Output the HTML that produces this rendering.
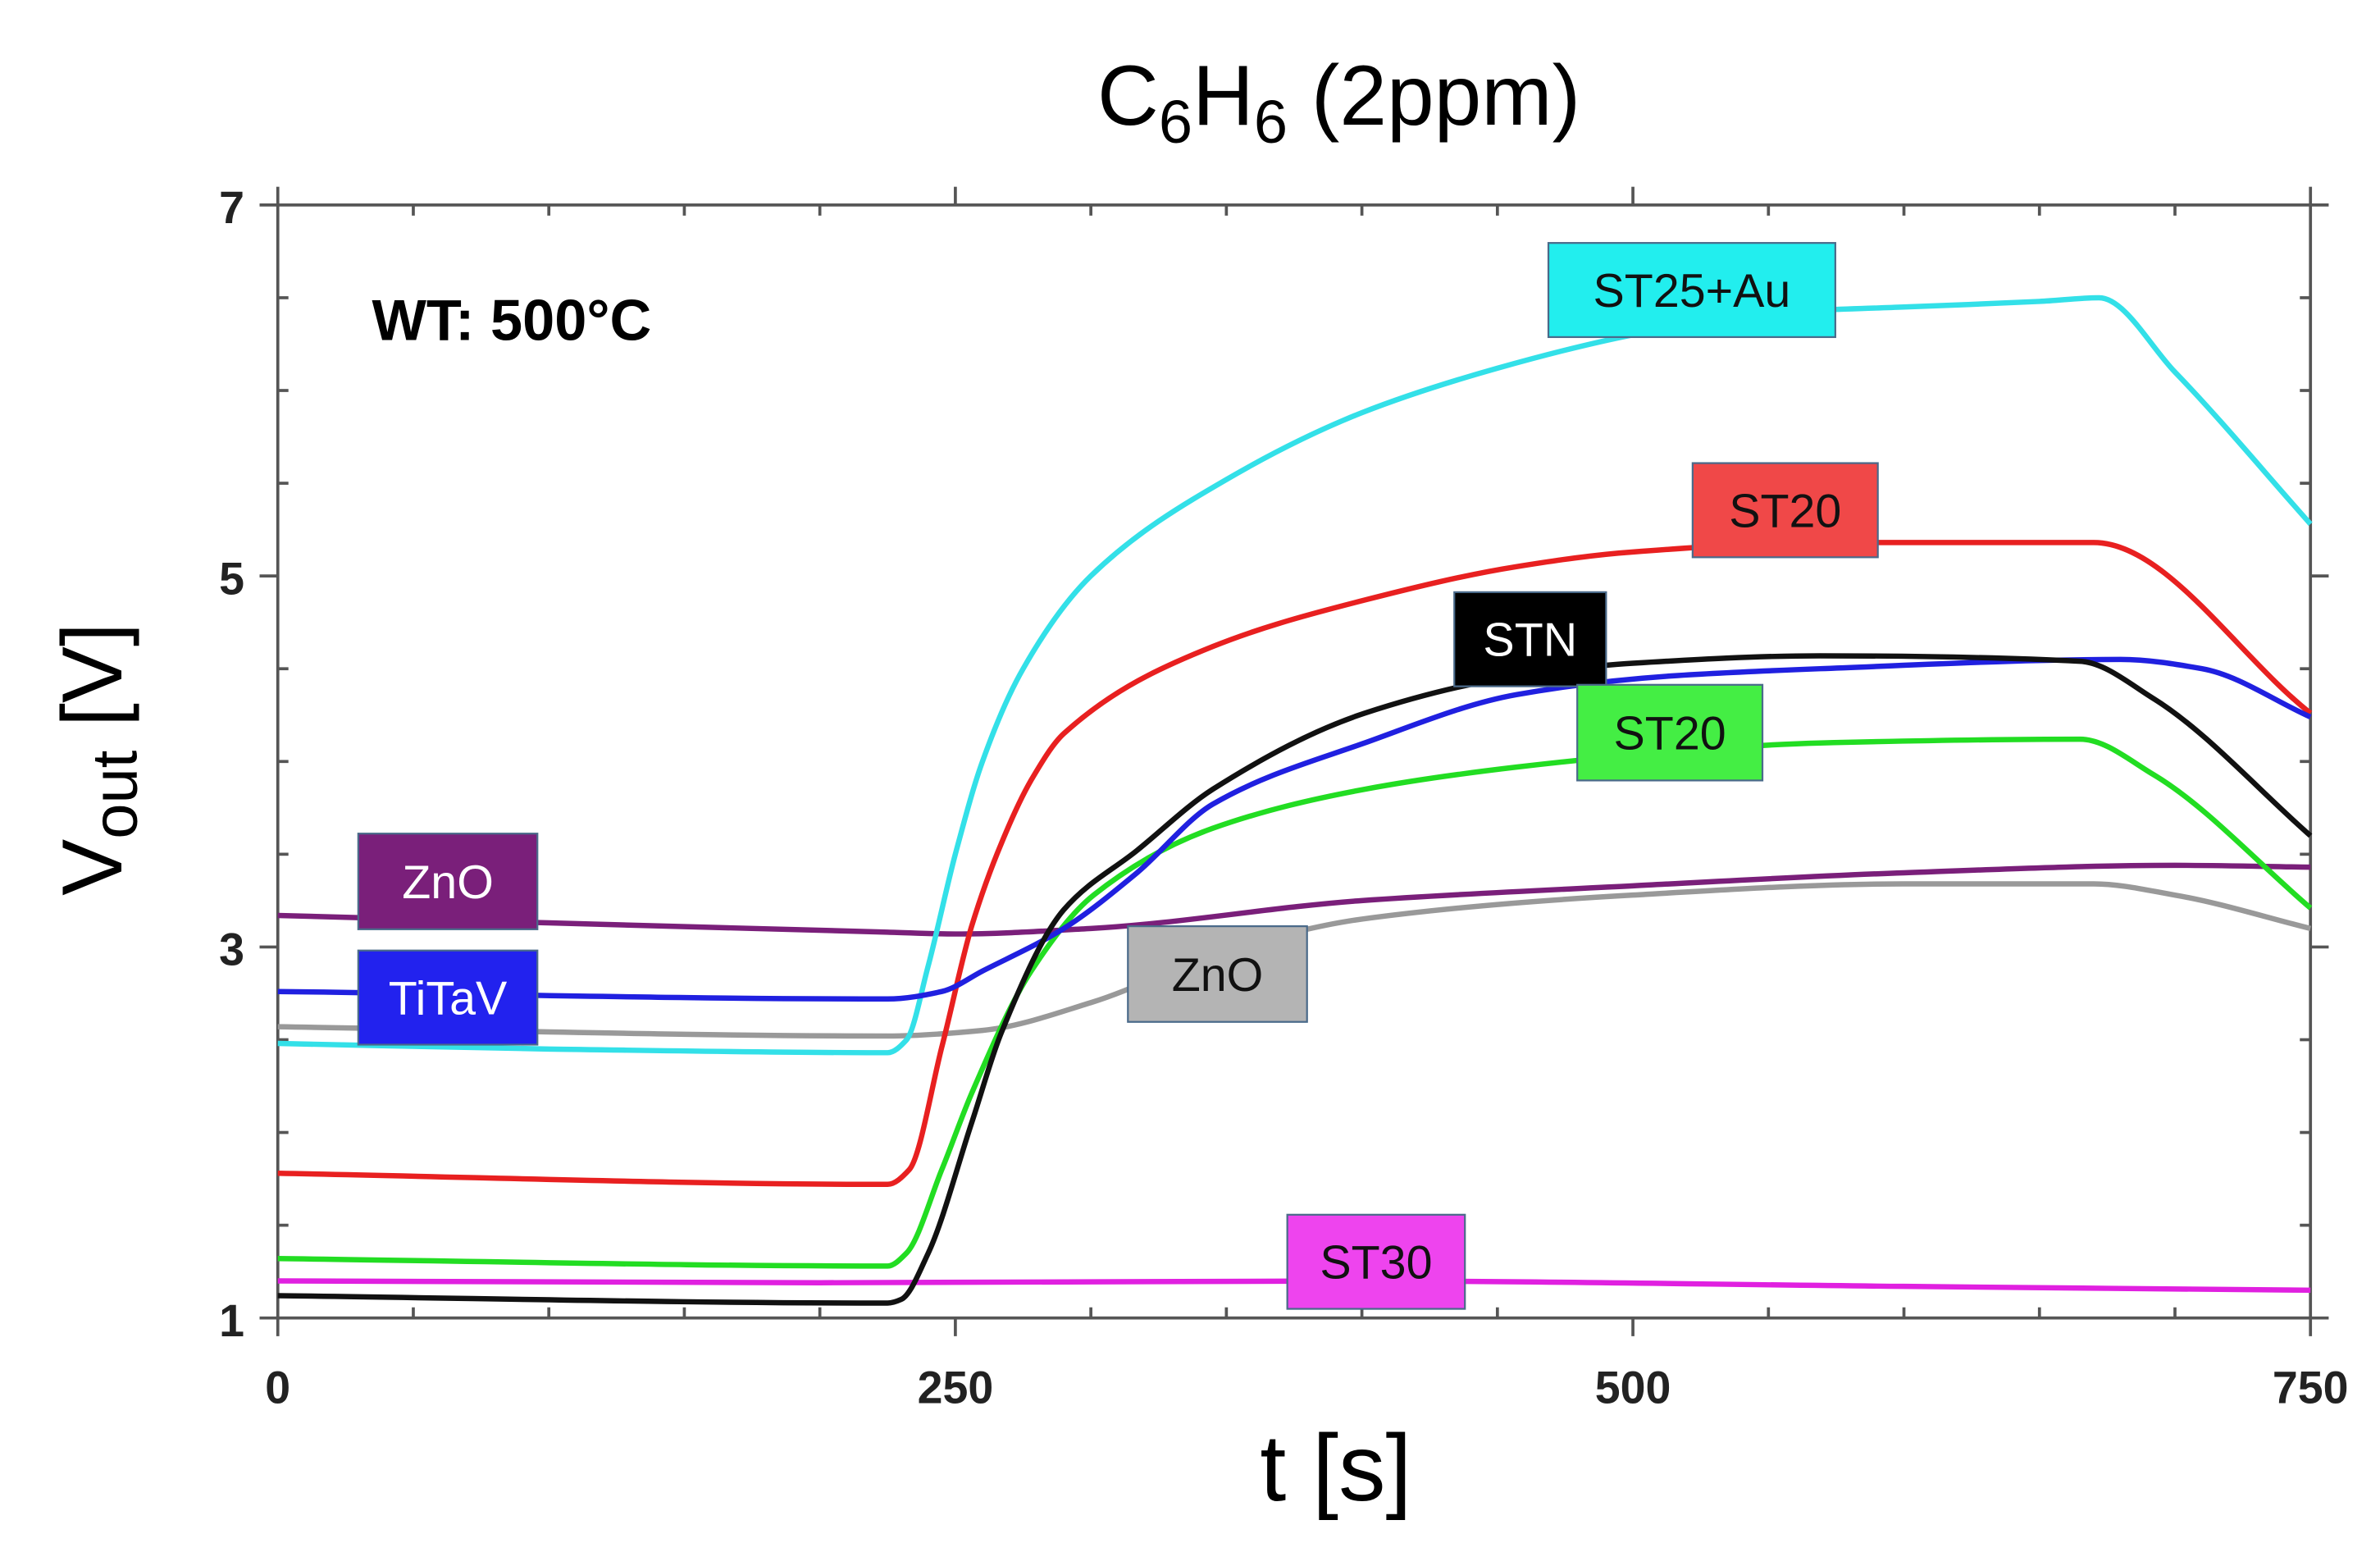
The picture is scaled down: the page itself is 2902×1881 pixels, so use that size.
<!DOCTYPE html>
<html><head><meta charset="utf-8"><style>
html,body{margin:0;padding:0;background:#fff}
svg{display:block}
text{font-family:"Liberation Sans",sans-serif}
</style></head><body>
<svg id="chart" width="2902" height="1881" viewBox="0 0 1567.8 1016.2" xmlns="http://www.w3.org/2000/svg">
<text x="882" y="82" text-anchor="middle" font-size="56">C<tspan font-size="40" dy="12">6</tspan><tspan dy="-12">H</tspan><tspan font-size="40" dy="12">6</tspan><tspan dy="-12"> (2ppm)</tspan></text>
<text transform="translate(80,500) rotate(-90)" text-anchor="middle" font-size="56">V<tspan font-size="42" dy="10">out</tspan><tspan dy="-10"> [V]</tspan></text>
<text x="880" y="988" text-anchor="middle" font-size="62">t [s]</text>
<text x="245" y="224" font-size="38" font-weight="bold">WT: 500°C</text>
<g id="axes"></g>
<g id="series"></g>
<g id="labels"></g>
</svg>
<script>
const xTicks=[0,250,500,750];
const yTicks=[1,3,5,7];
const tCyan=[0,100,225,232,240,250,260,275,300,350,400,450,500,550,600,650,672,700,750];
const vCyan=[2.48,2.45,2.43,2.5,2.9,3.5,4.0,4.5,5.0,5.52,5.88,6.12,6.3,6.42,6.45,6.48,6.5,6.1,5.28];
const tRed=[0,225,233,245,256,267,278,290,345,401,457,500,569,670,750];
const vRed=[1.78,1.72,1.8,2.46,3.11,3.56,3.9,4.15,4.62,4.87,5.05,5.13,5.18,5.18,4.26];
const tBlack=[0,225,230,240,256,267,290,317,345,401,457,500,569,665,692,750];
const vBlack=[1.12,1.08,1.1,1.35,2.05,2.54,3.2,3.52,3.85,4.26,4.46,4.53,4.57,4.54,4.34,3.6];
const tBlue=[0,225,245,260,290,317,345,401,457,513,569,680,710,750];
const vBlue=[2.76,2.72,2.76,2.87,3.1,3.4,3.77,4.1,4.36,4.46,4.5,4.55,4.5,4.24];
const tGreen=[0,225,232,245,256,278,301,345,401,457,513,569,665,692,750];
const vGreen=[1.32,1.28,1.35,1.8,2.21,2.87,3.28,3.64,3.85,3.97,4.05,4.1,4.12,3.93,3.21];
const tPurple=[0,100,225,250,300,400,500,600,700,750];
const vPurple=[3.17,3.13,3.08,3.07,3.1,3.25,3.33,3.4,3.44,3.43];
const tGray=[0,225,260,300,350,400,500,600,670,700,750];
const vGray=[2.57,2.52,2.55,2.7,2.98,3.15,3.28,3.34,3.34,3.28,3.1];
const tMagenta=[0,200,400,600,750];
const vMagenta=[1.2,1.19,1.2,1.17,1.15];
const labelTexts=["ZnO","TiTaV","ZnO","STN","ST20","ST20","ST25+Au","ST30"];

const NS="http://www.w3.org/2000/svg";
const X0=183,X1=1522,Y0=868,Y1=135;
function sx(t){return X0+(t-0)/(750-0)*(X1-X0);}
function sy(v){return Y0-(v-1)/(7-1)*(Y0-Y1);}
function mk(tag,attrs,parent){const e=document.createElementNS(NS,tag);for(const k in attrs)e.setAttribute(k,attrs[k]);parent.appendChild(e);return e;}
const axes=document.getElementById('axes');
const frame=mk('rect',{x:X0,y:Y1,width:X1-X0,height:Y0-Y1,fill:'none',stroke:'#555','stroke-width':2},axes);


for(let t=0;t<=750;t+=50){
  const major=xTicks.includes(t);
  const l=mk('line',{x1:sx(t),x2:sx(t),y1:major?Y0+12:Y0,y2:major?Y0:Y0-7,stroke:'#555','stroke-width':2},axes);
  
  
  const l2=mk('line',{x1:sx(t),x2:sx(t),y1:major?Y1-12:Y1,y2:major?Y1:Y1+7,stroke:'#555','stroke-width':2},axes);
  
  
}
for(let v=1;v<=7.001;v+=0.5){
  const major=yTicks.includes(v);
  const l=mk('line',{x1:major?X0-12:X0,x2:major?X0:X0+7,y1:sy(v),y2:sy(v),stroke:'#555','stroke-width':2},axes);
  
  
  const l2=mk('line',{x1:major?X1+12:X1,x2:major?X1:X1-7,y1:sy(v),y2:sy(v),stroke:'#555','stroke-width':2},axes);
  
  
}
xTicks.forEach(t=>{const e=mk('text',{x:sx(t),y:Y0+56,'text-anchor':'middle','font-size':30,'font-weight':'bold',fill:'#222'},axes);e.textContent=String(t);
  
  });
yTicks.forEach(v=>{const e=mk('text',{x:X0-22,y:sy(v)+12,'text-anchor':'end','font-size':30,'font-weight':'bold',fill:'#222'},axes);e.textContent=String(v);
  
  });

function monoPath(pts){
  const n=pts.length,dx=[],s=[],m=[];
  for(let i=0;i<n-1;i++){dx[i]=pts[i+1][0]-pts[i][0];s[i]=(pts[i+1][1]-pts[i][1])/dx[i];}
  m[0]=s[0];m[n-1]=s[n-2];
  for(let i=1;i<n-1;i++){
    if(s[i-1]*s[i]<=0)m[i]=0;
    else{const w1=2*dx[i]+dx[i-1],w2=dx[i]+2*dx[i-1];m[i]=(w1+w2)/(w1/s[i-1]+w2/s[i]);}
  }
  let d='M'+pts[0][0].toFixed(1)+','+pts[0][1].toFixed(1);
  for(let i=0;i<n-1;i++){
    const h=dx[i]/3;
    d+=' C'+(pts[i][0]+h).toFixed(1)+','+(pts[i][1]+m[i]*h).toFixed(1)+' '+(pts[i+1][0]-h).toFixed(1)+','+(pts[i+1][1]-m[i+1]*h).toFixed(1)+' '+pts[i+1][0].toFixed(1)+','+pts[i+1][1].toFixed(1);
  }
  return d;
}
const series=[
 [tGray,vGray,'#999999','line-zno-gray'],
 [tPurple,vPurple,'#7a1f7a','line-zno-purple'],
 [tMagenta,vMagenta,'#e020e0','line-st30'],
 [tCyan,vCyan,'#33e0e8','line-st25-au'],
 [tRed,vRed,'#e82020','line-st20-red'],
 [tGreen,vGreen,'#22dd22','line-st20-green'],
 [tBlue,vBlue,'#2020e0','line-titav'],
 [tBlack,vBlack,'#111111','line-stn']];
const sg=document.getElementById('series');
series.forEach(s=>{
  const pts=s[0].map((t,i)=>[sx(t),sy(s[1][i])]);
  const p=mk('path',{d:monoPath(pts),fill:'none',stroke:s[2],'stroke-width':3.5,'stroke-linejoin':'round'},sg);
  
  
});

const boxes=[
 [236,549,118,63,'#7a1f7a','#fff','label-zno-purple'],
 [236,626,118,62,'#2222ee','#fff','label-titav'],
 [743,610,118,63,'#b4b4b4','#111','label-zno-gray'],
 [958,390,100,62,'#000','#fff','label-stn'],
 [1039,451,122,63,'#44ee44','#111','label-st20-green'],
 [1115,305,122,62,'#f04848','#111','label-st20-red'],
 [1020,160,189,62,'#22eeee','#111','label-st25-au'],
 [848,800,117,62,'#ee44ee','#111','label-st30']];
const lg=document.getElementById('labels');
boxes.forEach((b,i)=>{
  const g=mk('g',{},lg);
  
  
  mk('rect',{x:b[0],y:b[1],width:b[2],height:b[3],fill:b[4],stroke:'#4a6a8a','stroke-width':1.2},g);
  const t=mk('text',{x:b[0]+b[2]/2,y:b[1]+b[3]/2+11,'text-anchor':'middle','font-size':31,fill:b[5]},g);
  t.textContent=labelTexts[i];
});
</script>
</body></html>
